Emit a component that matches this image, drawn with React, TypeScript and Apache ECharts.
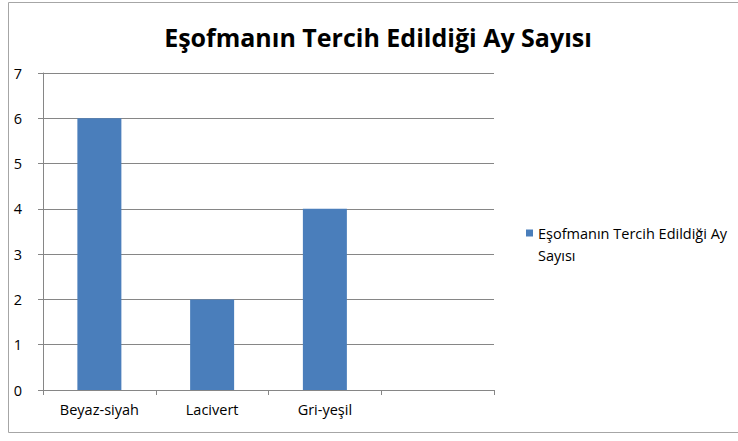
import React, { useEffect, useRef } from "react";
import * as echarts from "echarts";

const categories = ["Beyaz-siyah", "Lacivert", "Gri-yeşil", ""];
const values = [6, 2, 4, null];
const seriesName = "Eşofmanın Tercih Edildiği Ay Sayısı";
const titleText = "Eşofmanın Tercih Edildiği Ay Sayısı";
const legendLines = ["Eşofmanın Tercih Edildiği Ay", "Sayısı"];

export default function App() {
  const ref = useRef<HTMLDivElement>(null);
  useEffect(() => {
    if (!ref.current) return;
    const chart = echarts.init(ref.current, undefined, { renderer: "svg" });
    const font = "'Open Sans', 'Noto Sans', sans-serif";
    chart.setOption({
      animation: false,
      backgroundColor: "#ffffff",
      title: {
        text: titleText,
        left: 373,
        textAlign: "center",
        top: 19,
        textStyle: { fontFamily: font, fontWeight: "bold", fontSize: 25, color: "#000" },
      },
      grid: { left: 43, top: 73, right: 244, bottom: 51, containLabel: false },
      legend: {
        data: [seriesName],
        left: 521,
        top: 195,
        orient: "vertical",
        icon: "rect",
        itemWidth: 7,
        itemHeight: 7,
        itemGap: 0,
        formatter: () => "\n" + legendLines.join("\n"),
        textStyle: {
          fontFamily: font,
          fontSize: 14.5,
          color: "#000",
          lineHeight: 22,
        },
      },
      xAxis: {
        type: "category",
        data: categories,
        boundaryGap: true,
        axisLine: { show: true, lineStyle: { color: "#868686", width: 1 } },
        axisTick: { show: true, interval: 0, length: 5, lineStyle: { color: "#868686" } },
        axisLabel: { interval: 0, margin: 12, fontFamily: font, fontSize: 14.5, color: "#000" },
        splitLine: { show: false },
      },
      yAxis: {
        type: "value",
        min: 0,
        max: 7,
        interval: 1,
        axisLine: { show: true, lineStyle: { color: "#868686", width: 1 } },
        axisTick: { show: true, length: 5, lineStyle: { color: "#868686" } },
        axisLabel: { margin: 21, fontFamily: font, fontSize: 14.5, color: "#000" },
        splitLine: { show: true, lineStyle: { color: "#868686", width: 1 } },
      },
      series: [
        {
          name: seriesName,
          type: "bar",
          data: values,
          barWidth: 44,
          itemStyle: { color: "#4a7ebb" },
        },
      ],
      graphic: [
        {
          type: "rect",
          shape: { x: 8.5, y: 2.5, width: 740, height: 430 },
          style: { fill: "none", stroke: "#a6a6a6", lineWidth: 1 },
          silent: true,
          z: -1,
        },
      ],
    });
    return () => chart.dispose();
  }, []);
  return (
    <div
      ref={ref}
      style={{ position: "fixed", left: 0, top: 0, width: 738, height: 441 }}
    />
  );
}
